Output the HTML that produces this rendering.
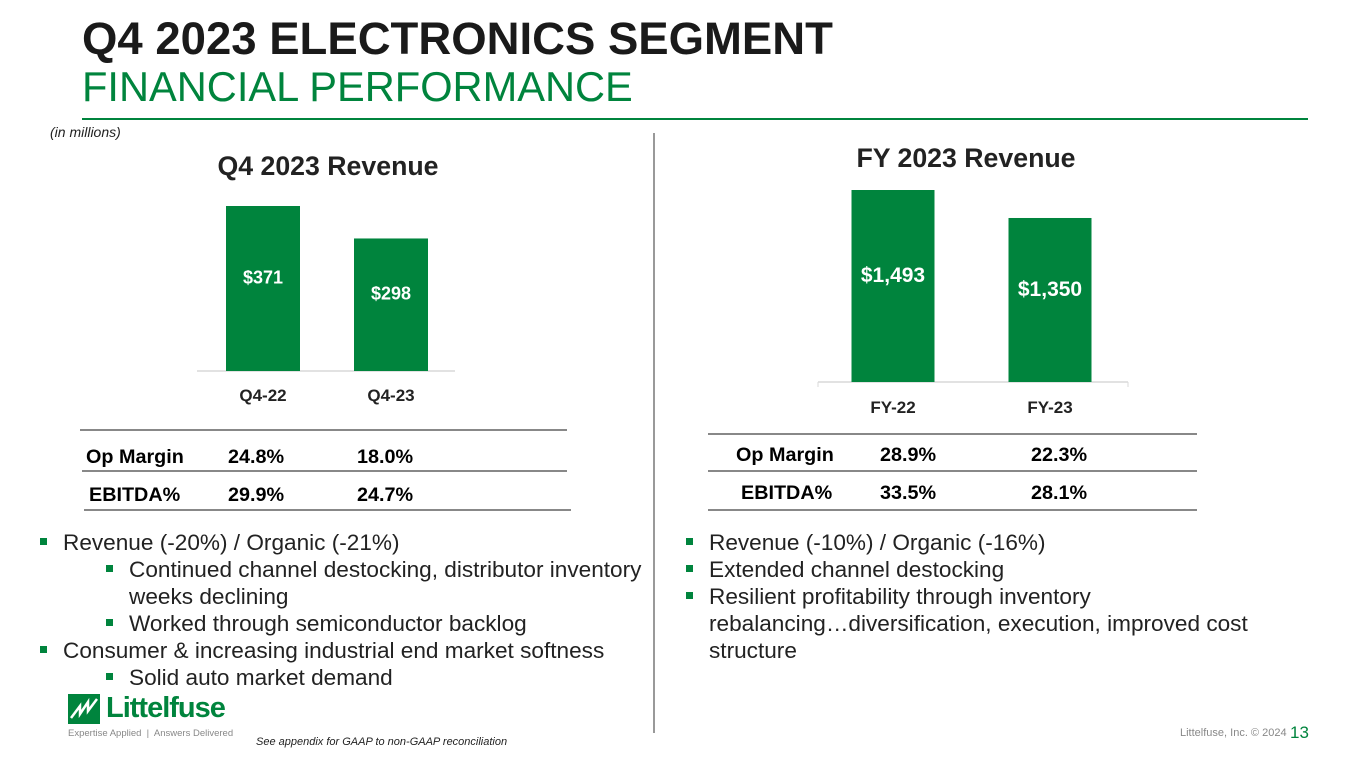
<!DOCTYPE html>
<html><head><meta charset="utf-8"><style>
body{margin:0;width:1365px;height:768px;overflow:hidden;background:#fff;font-family:"Liberation Sans",Arial,sans-serif;position:relative}
.a{position:absolute;white-space:nowrap}
.b{font-size:22.6px;color:#222}
.t{font-size:19.8px;font-weight:bold}
.sq{display:inline-block;width:7px;height:7px;background:#00843d;margin-right:16px;vertical-align:middle;position:relative;top:-3px}
</style></head><body>
<div class="a" style="left:82px;top:13px;font-size:45.5px;font-weight:bold;color:#1a1a1a">Q4 2023 ELECTRONICS SEGMENT</div>
<div class="a" style="left:82px;top:63px;font-size:41.6px;color:#00843d">FINANCIAL PERFORMANCE</div>
<div class="a" style="left:82px;top:118px;width:1226px;height:2px;background:#00843d"></div>
<div class="a" style="left:50px;top:124px;font-size:14px;font-style:italic;color:#222">(in millions)</div>
<div class="a" style="left:653px;top:133px;width:2px;height:600px;background:#999"></div>
<svg class="a" id="chart" style="left:0;top:0" width="1365" height="420"></svg>

<div class="a" style="left:0;top:0">
<div class="a" style="left:80px;top:429px;width:487px;height:2px;background:#888"></div>
<div class="a" style="left:82px;top:470px;width:485px;height:2px;background:#888"></div>
<div class="a" style="left:84px;top:509px;width:487px;height:2px;background:#888"></div>
<div class="a t" style="left:86px;top:446px">Op Margin</div>
<div class="a t" style="left:228px;top:446px">24.8%</div>
<div class="a t" style="left:357px;top:446px">18.0%</div>
<div class="a t" style="left:89px;top:484px">EBITDA%</div>
<div class="a t" style="left:228px;top:484px">29.9%</div>
<div class="a t" style="left:357px;top:484px">24.7%</div>
</div>
<div class="a" style="left:0;top:0">
<div class="a" style="left:708px;top:433px;width:489px;height:2px;background:#888"></div>
<div class="a" style="left:708px;top:470px;width:489px;height:2px;background:#888"></div>
<div class="a" style="left:708px;top:509px;width:489px;height:2px;background:#888"></div>
<div class="a t" style="left:736px;top:444px">Op Margin</div>
<div class="a t" style="left:880px;top:444px">28.9%</div>
<div class="a t" style="left:1031px;top:444px">22.3%</div>
<div class="a t" style="left:741px;top:482px">EBITDA%</div>
<div class="a t" style="left:880px;top:482px">33.5%</div>
<div class="a t" style="left:1031px;top:482px">28.1%</div>
</div>

<div class="a b" style="left:40px;top:529px;line-height:27px">
<div><span class="sq"></span>Revenue (-20%) / Organic (-21%)</div>
<div style="padding-left:66px"><span class="sq"></span>Continued channel destocking, distributor inventory</div>
<div style="padding-left:89px">weeks declining</div>
<div style="padding-left:66px"><span class="sq"></span>Worked through semiconductor backlog</div>
<div><span class="sq"></span>Consumer &amp; increasing industrial end market softness</div>
<div style="padding-left:66px"><span class="sq"></span>Solid auto market demand</div>
</div>
<div class="a b" style="left:686px;top:529px;line-height:27px">
<div><span class="sq"></span>Revenue (-10%) / Organic (-16%)</div>
<div><span class="sq"></span>Extended channel destocking</div>
<div><span class="sq"></span>Resilient profitability through inventory</div>
<div style="padding-left:23px">rebalancing…diversification, execution, improved cost</div>
<div style="padding-left:23px">structure</div>
</div>

<div class="a" style="left:68px;top:694px">
<svg width="32" height="30" style="position:absolute;left:0;top:0"><rect width="32" height="30" fill="#00843d"/><path d="M3 24 L12 12 L12 20 L20 8 L20 17 L29 5" stroke="#fff" stroke-width="2.5" fill="none"/></svg>
<div class="a" style="left:38px;top:-2px;font-size:29px;font-weight:bold;color:#00843d;letter-spacing:-1px">Littelfuse</div>
<div class="a" style="left:0;top:34px;font-size:9.5px;color:#888">Expertise Applied &nbsp;|&nbsp; Answers Delivered</div>
</div>
<div class="a" style="left:256px;top:736px;font-size:11px;font-style:italic;color:#222">See appendix for GAAP to non-GAAP reconciliation</div>
<div class="a" style="left:1180px;top:727px;font-size:11px;color:#888">Littelfuse, Inc. © 2024</div>
<div class="a" style="left:1290px;top:723px;font-size:17px;color:#00843d">13</div>

<script>
const q4Categories=["Q4-22","Q4-23"];
const q4Values=[371,298];
const q4Labels=["$371","$298"];
const fyCategories=["FY-22","FY-23"];
const fyValues=[1493,1350];
const fyLabels=["$1,493","$1,350"];
const svg=document.getElementById('chart');
const NS="http://www.w3.org/2000/svg";
function mk(t,a){const e=document.createElementNS(NS,t);for(const k in a)e.setAttribute(k,a[k]);svg.appendChild(e);return e;}
function draw(cfg){
  const yScale=v=>cfg.base-(v-cfg.min)/(cfg.max-cfg.min)*cfg.h;
  const t=mk('text',{x:cfg.cx,y:cfg.titleY,'text-anchor':'middle','font-size':26.7,'font-weight':'bold',fill:'#222'});t.textContent=cfg.title;
  
  
  const ax=mk('line',{x1:cfg.ax0,x2:cfg.ax1,y1:cfg.base,y2:cfg.base,stroke:'#d9d9d9','stroke-width':1.5});
  
  
  if(cfg.ticks){[cfg.ax0,cfg.ax1].forEach(x=>mk('line',{x1:x,x2:x,y1:cfg.base,y2:cfg.base+5,stroke:'#d9d9d9'}));}
  cfg.cats.forEach((c,i)=>{
    const xc=cfg.x0+i*cfg.step, y=yScale(cfg.vals[i]);
    const r=mk('rect',{x:xc-cfg.bw/2,y:y,width:cfg.bw,height:cfg.base-y,fill:'#00843d'});
    
    
    const l=mk('text',{x:xc,y:(y+cfg.base)/2+cfg.lblOff,'text-anchor':'middle','font-size':cfg.lblSize,'font-weight':'bold',fill:'#fff'});l.textContent=cfg.labels[i];
    
    
    const k=mk('text',{x:xc,y:cfg.base+cfg.catOff,'text-anchor':'middle','font-size':17,'font-weight':'bold',fill:'#222'});k.textContent=c;
    
    
  });
}
draw({prefix:'q4',title:'Q4 2023 Revenue',cx:328,titleY:175,cats:q4Categories,vals:q4Values,labels:q4Labels,min:0,max:371,h:165,base:371,x0:263,step:128,bw:74,ax0:197,ax1:455,lblOff:-5,lblSize:18,catOff:30,ticks:false});
draw({prefix:'fy',title:'FY 2023 Revenue',cx:966,titleY:167,cats:fyCategories,vals:fyValues,labels:fyLabels,min:512,max:1493,h:192,base:382,x0:893,step:157,bw:83,ax0:818,ax1:1128,lblOff:-4,lblSize:21,catOff:31,ticks:true});
</script>
</body></html>
